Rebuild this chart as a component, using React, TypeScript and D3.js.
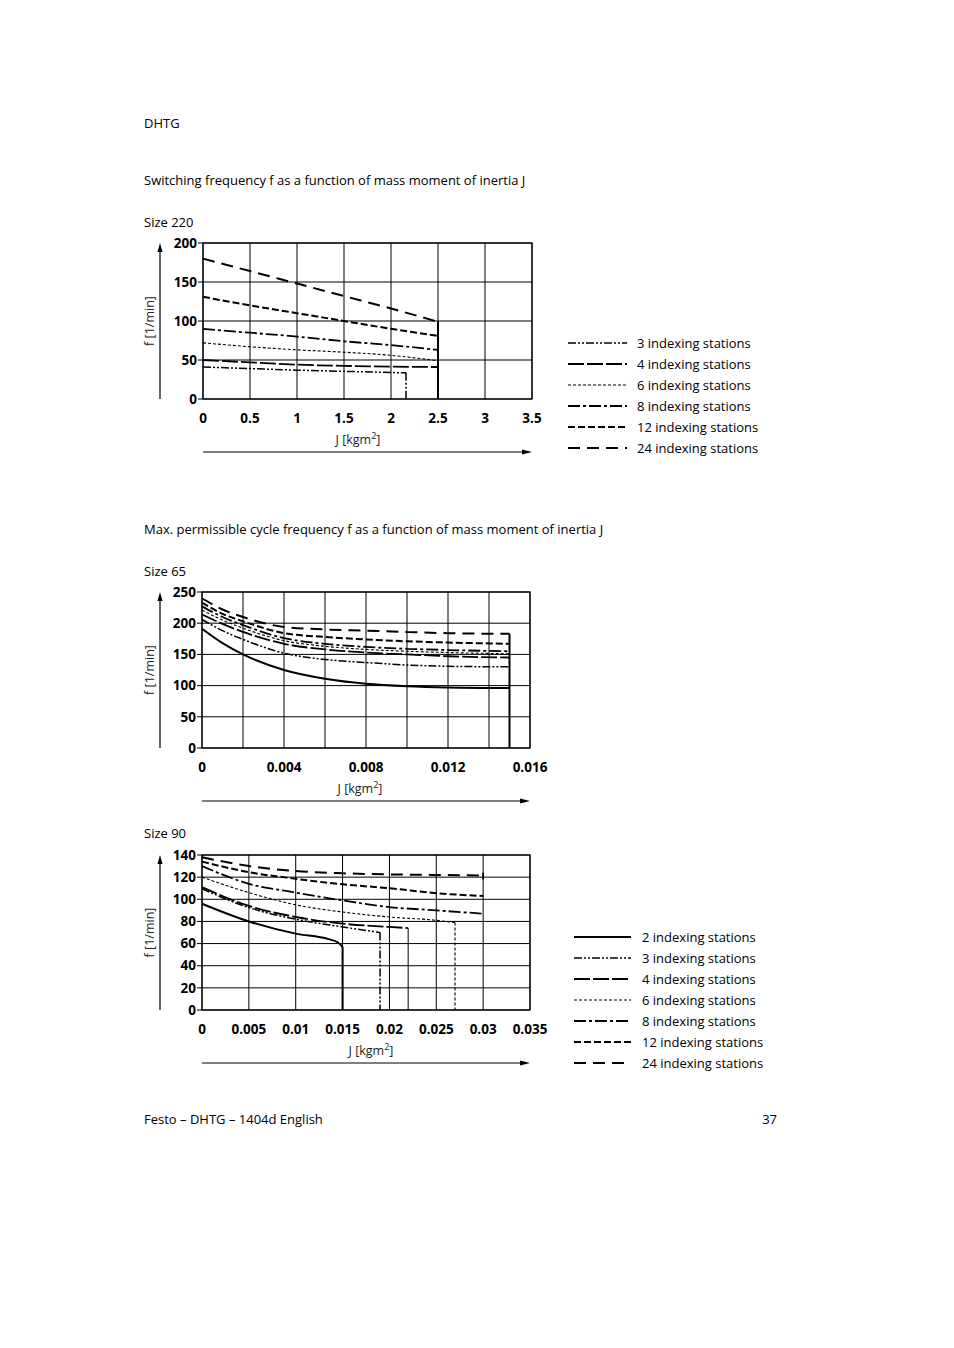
import React from 'react';
import * as d3 from 'd3';

// ---------- Size 220: switching frequency ----------
const j220 = [0, 0.5, 1, 1.5, 2, 2.5];
const j220_3 = [0, 0.5, 1, 1.5, 2, 2.16];
const f220_3 = [41, 39, 37, 35.5, 34, 33.5];
const f220_4 = [50, 47, 44, 42.5, 41.5, 41];
const f220_6 = [72, 67, 63, 60, 56, 49];
const f220_8 = [90, 85, 80, 74, 69, 63];
const f220_12 = [131, 120, 110, 100, 90, 81];
const f220_24 = [180, 164, 148, 132, 116, 99];
const x220Ticks = [0, 0.5, 1, 1.5, 2, 2.5, 3, 3.5];
const y220Ticks = [0, 50, 100, 150, 200];

// ---------- Size 65: max. cycle frequency ----------
const j65 = [0, 0.001, 0.002, 0.004, 0.006, 0.008, 0.01, 0.012, 0.015];
const f65_2 = [191, 168, 150, 125, 111, 103, 99, 97, 96];
const f65_3 = [206, 188, 174, 152, 142, 137, 133, 131, 130];
const f65_4 = [214, 199, 186, 167, 158, 153, 150, 147, 145];
const f65_6 = [221, 205, 192, 172, 163, 158, 155, 153, 151];
const f65_8 = [227, 210, 197, 176, 167, 162, 159, 157, 155];
const f65_12 = [233, 215, 203, 184, 178, 174, 171, 169, 167];
const f65_24 = [240, 222, 210, 194, 190, 188, 186, 184, 183];
const x65Grid = [0, 0.002, 0.004, 0.006, 0.008, 0.01, 0.012, 0.014, 0.016];
const x65Ticks = [0, 0.004, 0.008, 0.012, 0.016];
const y65Ticks = [0, 50, 100, 150, 200, 250];

// ---------- Size 90: max. cycle frequency ----------
const j90 = [0, 0.005, 0.01, 0.015, 0.02, 0.025, 0.03];
const j90_2 = [0, 0.005, 0.01, 0.0135, 0.0145, 0.015];
const f90_2 = [96, 80, 69, 64, 61, 57];
const j90_3 = [0, 0.005, 0.01, 0.015, 0.019];
const f90_3 = [109.5, 92.5, 82, 75, 70];
const j90_4 = [0, 0.005, 0.01, 0.015, 0.02, 0.022];
const f90_4 = [111, 94, 84, 78, 75, 74];
const j90_6 = [0, 0.005, 0.01, 0.015, 0.02, 0.025, 0.027];
const f90_6 = [120, 106, 95, 88.5, 84, 81, 79];
const f90_8 = [130, 114, 106, 99, 93, 90, 87];
const f90_12 = [134, 124.5, 118.5, 113.5, 110, 105.5, 103];
const f90_24 = [138, 130, 125.5, 123.5, 122.5, 122, 121.5];
const x90Ticks = [0, 0.005, 0.01, 0.015, 0.02, 0.025, 0.03, 0.035];
const y90Ticks = [0, 20, 40, 60, 80, 100, 120, 140];

const legend220 = [3, 4, 6, 8, 12, 24];
const legendAll = [2, 3, 4, 6, 8, 12, 24];

const FONT = "'Open Sans', sans-serif";

const lineStyle: Record<number, { dash?: string; w: number }> = {
  2: { w: 2 },
  3: { dash: '8,2,2,2,2,2', w: 1.5 },
  4: { dash: '16,3', w: 1.8 },
  6: { dash: '3,2', w: 1.1 },
  8: { dash: '12,3,3,3', w: 1.8 },
  12: { dash: '7,3', w: 2 },
  24: { dash: '12,7', w: 2 },
};

type Series = { n: number; j: number[]; f: number[]; drop?: boolean };
type Limit = { j: number; from: number; to: number; n?: number; w?: number };

const zip = (j: number[], f: number[]) => j.map((v, i) => [v, f[i]] as [number, number]);

interface ChartProps {
  x0: number; x1: number; yTop: number; yBot: number;
  xMax: number; yMax: number;
  xGrid: number[]; xTicks: number[]; yTicks: number[];
  series: Series[]; limits: Limit[];
  jLabelX: number;
}

function Chart(p: ChartProps) {
  const x = d3.scaleLinear().domain([0, p.xMax]).range([p.x0, p.x1]);
  const y = d3.scaleLinear().domain([0, p.yMax]).range([p.yBot, p.yTop]);
  const line = d3.line<[number, number]>()
    .x(d => x(d[0]))
    .y(d => y(d[1]))
    .curve(d3.curveMonotoneX);
  const midY = (p.yTop + p.yBot) / 2;
  return (
    <g>
      {/* grid */}
      {p.xGrid.map(v => (
        <line key={'gx' + v} x1={x(v)} x2={x(v)} y1={p.yTop} y2={p.yBot} stroke="#000" strokeWidth={1} />
      ))}
      {p.yTicks.map(v => (
        <line key={'gy' + v} x1={p.x0} x2={p.x1} y1={y(v)} y2={y(v)} stroke="#000" strokeWidth={1} />
      ))}
      <rect x={p.x0} y={p.yTop} width={p.x1 - p.x0} height={p.yBot - p.yTop} fill="none" stroke="#000" strokeWidth={1.2} />

      {/* curves */}
      {p.series.map(s => {
        const st = lineStyle[s.n];
        const last = s.f.length - 1;
        return (
          <g key={'s' + s.n}>
            <path d={line(zip(s.j, s.f)) || ''} fill="none" stroke="#000"
              strokeWidth={st.w} strokeDasharray={st.dash} />
            {s.drop && (
              <line x1={x(s.j[last])} x2={x(s.j[last])} y1={y(s.f[last])} y2={y(0)}
                stroke="#000" strokeWidth={st.w} strokeDasharray={st.dash} />
            )}
          </g>
        );
      })}
      {p.limits.map((l, i) => {
        const st = l.n ? lineStyle[l.n] : { w: l.w || 2, dash: undefined };
        return (
          <line key={'l' + i} x1={x(l.j)} x2={x(l.j)} y1={y(l.from)} y2={y(l.to)}
            stroke="#000" strokeWidth={l.w || st.w} strokeDasharray={st.dash} />
        );
      })}

      {/* y ticks + labels */}
      {p.yTicks.map(v => (
        <g key={'yt' + v}>
          <line x1={p.x0 - 5} x2={p.x0} y1={y(v)} y2={y(v)} stroke="#000" />
          <text x={p.x0 - 6} y={y(v)} dy="0.35em" textAnchor="end" fontFamily={FONT}
            fontWeight={700} fontSize={13.5}>{v}</text>
        </g>
      ))}
      {p.xTicks.map(v => (
        <text key={'xt' + v} x={x(v)} y={p.yBot + 24} textAnchor="middle" fontFamily={FONT}
          fontWeight={700} fontSize={13.5}>{String(v)}</text>
      ))}

      {/* axis arrows and titles */}
      <line x1={160} x2={160} y1={p.yBot} y2={p.yTop + 6} stroke="#000" strokeWidth={1.2} />
      <path d={`M160,${p.yTop} L157.5,${p.yTop + 9} L162.5,${p.yTop + 9} Z`} fill="#000" />
      <text transform={`translate(154,${midY}) rotate(-90)`} textAnchor="middle" fontFamily={FONT}
        fontSize={12.5} fill="#222">f [1/min]</text>

      <line x1={p.x0} x2={p.x1 - 6} y1={p.yBot + 53} y2={p.yBot + 53} stroke="#000" strokeWidth={1.2} />
      <path d={`M${p.x1},${p.yBot + 53} L${p.x1 - 10},${p.yBot + 50.5} L${p.x1 - 10},${p.yBot + 55.5} Z`} fill="#000" />
      <text x={p.jLabelX} y={p.yBot + 45} textAnchor="middle" fontFamily={FONT} fontSize={12.5} fill="#222">
        J [kgm<tspan dy={-5} fontSize={9}>2</tspan><tspan dy={5}>]</tspan>
      </text>
    </g>
  );
}

function Legend({ items, x, y, len, tx }: { items: number[]; x: number; y: number; len: number; tx: number }) {
  return (
    <g>
      {items.map((n, i) => {
        const st = lineStyle[n];
        const yy = y + i * 21;
        return (
          <g key={'lg' + n}>
            <line x1={x} x2={x + len} y1={yy} y2={yy} stroke="#000" strokeWidth={st.w}
              strokeDasharray={st.dash} />
            <text x={tx} y={yy} dy="0.35em" fontFamily={FONT} fontSize={13}>{n} indexing stations</text>
          </g>
        );
      })}
    </g>
  );
}

export default function App() {
  const s220: Series[] = [
    { n: 3, j: j220_3, f: f220_3, drop: true },
    { n: 4, j: j220, f: f220_4 },
    { n: 6, j: j220, f: f220_6 },
    { n: 8, j: j220, f: f220_8 },
    { n: 12, j: j220, f: f220_12 },
    { n: 24, j: j220, f: f220_24 },
  ];
  const s65: Series[] = [
    { n: 2, j: j65, f: f65_2 },
    { n: 3, j: j65, f: f65_3 },
    { n: 4, j: j65, f: f65_4 },
    { n: 6, j: j65, f: f65_6 },
    { n: 8, j: j65, f: f65_8 },
    { n: 12, j: j65, f: f65_12 },
    { n: 24, j: j65, f: f65_24 },
  ];
  const s90: Series[] = [
    { n: 2, j: j90_2, f: f90_2, drop: true },
    { n: 3, j: j90_3, f: f90_3, drop: true },
    { n: 4, j: j90_4, f: f90_4 },
    { n: 6, j: j90_6, f: f90_6, drop: true },
    { n: 8, j: j90, f: f90_8 },
    { n: 12, j: j90, f: f90_12 },
    { n: 24, j: j90, f: f90_24 },
  ];
  const txt = { fontFamily: FONT, fontSize: 13 };
  return (
    <svg width={954} height={1348} style={{ position: 'absolute', left: 0, top: 0, background: '#fff' }}>
      <text x={144} y={128} {...txt}>DHTG</text>
      <text x={144} y={185} {...txt}>Switching frequency f as a function of mass moment of inertia J</text>
      <text x={144} y={227} {...txt}>Size 220</text>
      <Chart x0={203} x1={532} yTop={243} yBot={399} xMax={3.5} yMax={200}
        xGrid={x220Ticks} xTicks={x220Ticks} yTicks={y220Ticks} series={s220}
        limits={[{ j: 2.5, from: f220_24[5], to: 0, w: 2 }]} jLabelX={358} />
      <Legend items={legend220} x={568} y={343} len={59} tx={637} />

      <text x={144} y={534} {...txt}>Max. permissible cycle frequency f as a function of mass moment of inertia J</text>
      <text x={144} y={576} {...txt}>Size 65</text>
      <Chart x0={202} x1={530} yTop={592} yBot={748} xMax={0.016} yMax={250}
        xGrid={x65Grid} xTicks={x65Ticks} yTicks={y65Ticks} series={s65}
        limits={[{ j: 0.015, from: f65_24[8], to: 0, w: 2 }]} jLabelX={360} />

      <text x={144} y={838} {...txt}>Size 90</text>
      <Chart x0={202} x1={530} yTop={855} yBot={1010} xMax={0.035} yMax={140}
        xGrid={x90Ticks} xTicks={x90Ticks} yTicks={y90Ticks} series={s90}
        limits={[{ j: 0.022, from: f90_4[5], to: 0, w: 1 }, { j: 0.03, from: 124, to: 118, w: 1.8 }]} jLabelX={371} />
      <Legend items={legendAll} x={574} y={937} len={57} tx={642} />

      <text x={144} y={1124} {...txt}>Festo – DHTG – 1404d English</text>
      <text x={777} y={1124} textAnchor="end" {...txt}>37</text>
    </svg>
  );
}
